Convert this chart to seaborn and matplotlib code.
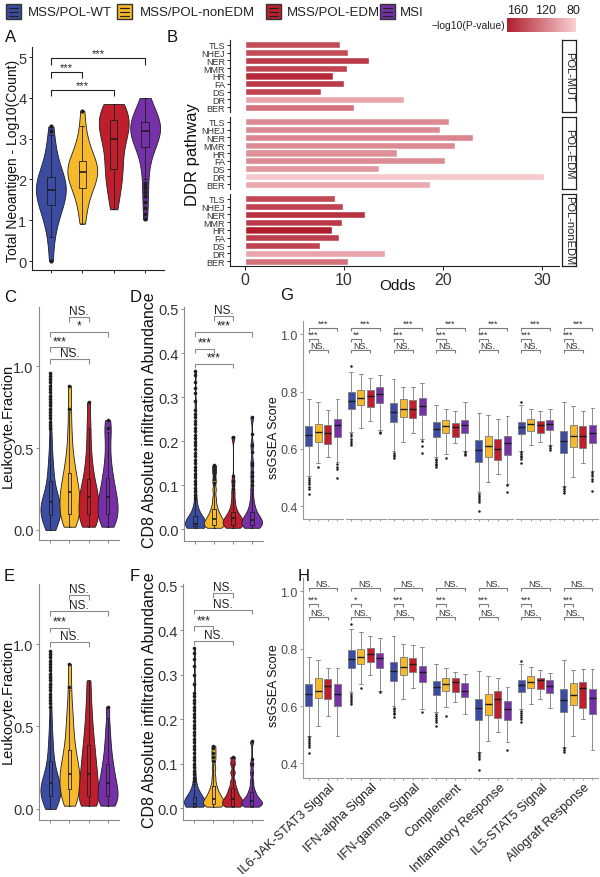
import numpy as np
import pandas as pd
import matplotlib
matplotlib.use("Agg")
import matplotlib.pyplot as plt
import seaborn as sns
from matplotlib.patches import Rectangle
from matplotlib.lines import Line2D
from matplotlib.colors import LinearSegmentedColormap, Normalize
from matplotlib.cm import ScalarMappable

# ---------------- data ----------------
GROUPS = ["MSS/POL-WT", "MSS/POL-nonEDM", "MSS/POL-EDM", "MSI"]
COLORS = ["#3B4CA2", "#F6B92C", "#BF1E2D", "#7630A8"]

# Panel A: Total neoantigen log10(count)
A_VIOLIN = [
    [0.0, 0.5, 0.8, 1.0, 1.15, 1.25, 1.35, 1.45, 1.52, 1.6, 1.66, 1.72, 1.78, 1.84, 1.9, 1.96, 2.03, 2.1, 2.2, 2.32, 2.48, 2.7, 2.95, 3.3],
    [0.92, 1.25, 1.5, 1.68, 1.8, 1.9, 1.98, 2.06, 2.12, 2.18, 2.24, 2.3, 2.36, 2.43, 2.5, 2.6, 2.75, 2.95, 3.2, 3.68],
    [1.27, 1.55, 1.8, 2.0, 2.15, 2.25, 2.4, 2.6, 2.8, 2.95, 3.05, 3.15, 3.25, 3.32, 3.4, 3.48, 3.56, 3.64, 3.72, 3.8, 3.85],
    [1.02, 1.5, 1.9, 2.3, 2.6, 2.8, 2.9, 3.0, 3.08, 3.14, 3.2, 3.25, 3.3, 3.35, 3.4, 3.45, 3.52, 3.62, 3.8, 4.0],
]
A_BOX = [[0.6, 1.37, 1.75, 2.07, 3.1], [0.92, 1.8, 2.18, 2.45, 3.3],
         [1.27, 2.25, 3.0, 3.45, 3.85], [2.0, 2.8, 3.2, 3.42, 4.0]]
A_OUT = [[0.0, 3.2, 3.3], [3.68], [], [1.02, 1.15, 1.3, 1.45, 1.6, 1.7, 1.78, 1.85, 1.92]]
A_SIG = [(0, 3, 4.97, "***"), (0, 1, 4.63, "***"), (0, 2, 4.19, "***")]

# Panel B: DDR pathway odds
PATHWAYS = ["TLS", "NHEJ", "NER", "MMR", "HR", "FA", "DS", "DR", "BER"]
B_FACETS = ["POL-MUT", "POL-EDM", "POL-nonEDM"]
B_ODDS_MUT = [9.6, 10.4, 12.5, 10.3, 8.9, 10.0, 7.7, 16.1, 11.0]
B_ODDS_EDM = [20.6, 19.7, 23.0, 21.2, 15.3, 20.2, 13.5, 30.2, 18.7]
B_ODDS_NONEDM = [9.1, 9.9, 12.1, 9.8, 8.8, 9.5, 7.6, 14.1, 10.4]
B_LOGP_MUT = [150, 150, 160, 155, 170, 160, 155, 100, 130]
B_LOGP_EDM = [115, 115, 118, 115, 112, 115, 108, 80, 98]
B_LOGP_NONEDM = [152, 155, 165, 160, 176, 158, 155, 100, 130]

# Panel C / E: Leukocyte fraction
C_VIOLIN = [
    [0.0, 0.01, 0.03, 0.05, 0.06, 0.08, 0.09, 0.1, 0.11, 0.12, 0.13, 0.14, 0.15, 0.16, 0.17, 0.18, 0.2, 0.22, 0.24, 0.27, 0.3, 0.34, 0.38, 0.43, 0.5, 0.6, 0.78, 0.96],
    [0.02, 0.04, 0.06, 0.08, 0.1, 0.12, 0.14, 0.16, 0.18, 0.2, 0.22, 0.24, 0.26, 0.28, 0.31, 0.34, 0.37, 0.41, 0.46, 0.53, 0.62, 0.74, 0.88],
    [0.02, 0.03, 0.05, 0.07, 0.09, 0.11, 0.13, 0.15, 0.17, 0.19, 0.21, 0.23, 0.25, 0.28, 0.31, 0.35, 0.4, 0.46, 0.55, 0.65, 0.78],
    [0.02, 0.04, 0.06, 0.08, 0.1, 0.12, 0.14, 0.16, 0.18, 0.2, 0.22, 0.25, 0.28, 0.31, 0.35, 0.4, 0.47, 0.55, 0.62, 0.67],
]
C_BOX = [[0.0, 0.09, 0.17, 0.30, 0.61], [0.02, 0.10, 0.23, 0.35, 0.72],
         [0.02, 0.10, 0.20, 0.31, 0.62], [0.02, 0.10, 0.20, 0.32, 0.60]]
C_OUT = [[0.62, 0.64, 0.66, 0.68, 0.70, 0.72, 0.74, 0.76, 0.78, 0.80, 0.82, 0.84, 0.86, 0.88, 0.90, 0.92, 0.94, 0.96],
         [0.74, 0.88], [0.78], [0.62, 0.67]]
C_SIG = [(1, 2, 1.30, "NS."), (0, 3, 1.21, "*"), (0, 1, 1.115, "***"), (0, 2, 1.04, "NS.")]

E_VIOLIN = [
    [0.0, 0.01, 0.03, 0.05, 0.06, 0.07, 0.08, 0.09, 0.1, 0.11, 0.12, 0.13, 0.14, 0.15, 0.16, 0.17, 0.19, 0.21, 0.23, 0.26, 0.29, 0.33, 0.38, 0.43, 0.5, 0.6, 0.78, 0.96],
    [0.02, 0.04, 0.06, 0.09, 0.11, 0.13, 0.15, 0.17, 0.19, 0.21, 0.23, 0.25, 0.27, 0.3, 0.33, 0.36, 0.4, 0.45, 0.5, 0.56, 0.63, 0.74, 0.88],
    [0.02, 0.03, 0.05, 0.07, 0.09, 0.12, 0.15, 0.18, 0.21, 0.24, 0.27, 0.31, 0.35, 0.39, 0.44, 0.5, 0.57, 0.66, 0.78],
    [0.02, 0.03, 0.05, 0.06, 0.08, 0.1, 0.12, 0.14, 0.16, 0.18, 0.21, 0.24, 0.27, 0.31, 0.36, 0.42, 0.5, 0.62],
]
E_BOX = [[0.0, 0.08, 0.16, 0.29, 0.60], [0.02, 0.12, 0.21, 0.36, 0.72],
         [0.02, 0.08, 0.21, 0.39, 0.78], [0.02, 0.08, 0.16, 0.27, 0.55]]
E_OUT = [[0.62, 0.64, 0.66, 0.68, 0.70, 0.72, 0.74, 0.76, 0.78, 0.80, 0.82, 0.84, 0.86, 0.88, 0.90, 0.92, 0.94, 0.96],
         [0.74, 0.88], [], [0.62]]
E_SIG = [(1, 2, 1.30, "NS."), (0, 3, 1.20, "NS."), (0, 1, 1.10, "***"), (0, 2, 1.015, "NS.")]

# Panel D / F: CD8 absolute infiltration abundance
D_VIOLIN = [
    [0.003, 0.004, 0.005, 0.006, 0.007, 0.008, 0.009, 0.01, 0.011, 0.012, 0.014, 0.016, 0.018, 0.02, 0.023, 0.026, 0.03, 0.035, 0.04, 0.05, 0.065, 0.09, 0.13, 0.2, 0.28, 0.36],
    [0.003, 0.005, 0.008, 0.01, 0.012, 0.015, 0.018, 0.021, 0.024, 0.028, 0.033, 0.038, 0.045, 0.055, 0.07, 0.09, 0.11, 0.13, 0.145],
    [0.003, 0.005, 0.008, 0.01, 0.013, 0.016, 0.019, 0.022, 0.025, 0.029, 0.034, 0.04, 0.05, 0.065, 0.085, 0.11, 0.21],
    [0.003, 0.005, 0.007, 0.01, 0.012, 0.015, 0.018, 0.02, 0.024, 0.028, 0.033, 0.04, 0.05, 0.065, 0.09, 0.12, 0.15, 0.19, 0.255],
]
D_BOX = [[0.003, 0.006, 0.012, 0.03, 0.066], [0.003, 0.01, 0.022, 0.045, 0.1],
         [0.003, 0.01, 0.025, 0.04, 0.085], [0.003, 0.01, 0.02, 0.04, 0.09]]
D_OUT = [[0.07, 0.078, 0.086, 0.094, 0.102, 0.11, 0.118, 0.126, 0.134, 0.142, 0.15, 0.158, 0.166, 0.174, 0.182, 0.19, 0.198,
          0.206, 0.214, 0.222, 0.23, 0.238, 0.246, 0.254, 0.262, 0.27, 0.29, 0.31, 0.32, 0.335, 0.35, 0.36],
         [0.105, 0.113, 0.12, 0.128, 0.135, 0.14, 0.145],
         [0.09, 0.1, 0.11, 0.12, 0.21],
         [0.1, 0.11, 0.12, 0.13, 0.145, 0.15, 0.175, 0.19, 0.215, 0.255]]
D_SIG = [(1, 2, 0.484, "NS."), (0, 3, 0.448, "***"), (0, 1, 0.41, "***"), (0, 2, 0.376, "***")]

F_VIOLIN = [
    [0.003, 0.004, 0.005, 0.006, 0.007, 0.008, 0.009, 0.01, 0.011, 0.012, 0.014, 0.016, 0.018, 0.02, 0.023, 0.026, 0.03, 0.035, 0.04, 0.05, 0.065, 0.09, 0.13, 0.2, 0.28, 0.36],
    [0.003, 0.005, 0.008, 0.01, 0.012, 0.015, 0.018, 0.021, 0.024, 0.028, 0.033, 0.038, 0.045, 0.055, 0.07, 0.09, 0.11, 0.125, 0.14],
    [0.003, 0.005, 0.008, 0.011, 0.014, 0.017, 0.02, 0.024, 0.028, 0.034, 0.04, 0.048, 0.06, 0.08, 0.1, 0.115],
    [0.003, 0.005, 0.007, 0.009, 0.011, 0.013, 0.015, 0.018, 0.021, 0.025, 0.03, 0.036, 0.045, 0.06, 0.08, 0.1, 0.15],
]
F_BOX = [[0.003, 0.005, 0.01, 0.025, 0.055], [0.003, 0.01, 0.02, 0.05, 0.1],
         [0.003, 0.005, 0.02, 0.045, 0.1], [0.003, 0.005, 0.015, 0.035, 0.08]]
F_OUT = [[0.06, 0.068, 0.076, 0.084, 0.092, 0.1, 0.108, 0.116, 0.124, 0.132, 0.14, 0.148, 0.156, 0.164, 0.172, 0.18, 0.188,
          0.196, 0.204, 0.212, 0.22, 0.228, 0.236, 0.244, 0.252, 0.26, 0.28, 0.3, 0.32, 0.335, 0.35, 0.36],
         [0.105, 0.115, 0.125, 0.135, 0.14],
         [0.115],
         [0.1, 0.11, 0.15]]
F_SIG = [(1, 2, 0.484, "NS."), (0, 3, 0.447, "NS."), (0, 1, 0.41, "***"), (0, 2, 0.377, "NS.")]

# Panels G / H: ssGSEA scores  [whisker-low, Q1, median, Q3, whisker-high]
HALLMARKS = ["IL6-JAK-STAT3 Signal", "IFN-alpha Signal", "IFN-gamma Signal", "Complement",
             "Inflamatory Response", "IL5-STAT5 Signal", "Allograft Response"]
G_STATS = [
    [[0.506, 0.609, 0.649, 0.681, 0.775], [0.552, 0.625, 0.658, 0.687, 0.763], [0.571, 0.617, 0.656, 0.684, 0.737], [0.553, 0.642, 0.684, 0.705, 0.774]],
    [[0.658, 0.740, 0.769, 0.798, 0.870], [0.673, 0.752, 0.778, 0.806, 0.861], [0.698, 0.748, 0.784, 0.806, 0.849], [0.667, 0.761, 0.792, 0.818, 0.857]],
    [[0.591, 0.693, 0.728, 0.759, 0.846], [0.623, 0.712, 0.739, 0.774, 0.818], [0.655, 0.709, 0.739, 0.770, 0.815], [0.635, 0.719, 0.751, 0.779, 0.829]],
    [[0.571, 0.643, 0.669, 0.693, 0.753], [0.581, 0.654, 0.681, 0.700, 0.739], [0.620, 0.643, 0.677, 0.689, 0.733], [0.593, 0.657, 0.683, 0.700, 0.765]],
    [[0.448, 0.555, 0.596, 0.631, 0.727], [0.483, 0.573, 0.611, 0.646, 0.718], [0.514, 0.561, 0.599, 0.634, 0.704], [0.477, 0.580, 0.619, 0.646, 0.716]],
    [[0.591, 0.652, 0.676, 0.695, 0.755], [0.613, 0.663, 0.686, 0.704, 0.739], [0.625, 0.655, 0.683, 0.696, 0.733], [0.613, 0.666, 0.686, 0.700, 0.739]],
    [[0.472, 0.586, 0.627, 0.664, 0.763], [0.501, 0.606, 0.644, 0.684, 0.751], [0.551, 0.602, 0.644, 0.679, 0.733], [0.524, 0.621, 0.656, 0.684, 0.742]],
]
G_OUT = [
    [[0.50, 0.492, 0.484, 0.476, 0.468, 0.46, 0.442], [0.535], [], [0.546, 0.538, 0.53, 0.498]],
    [[0.889, 0.652, 0.644, 0.636, 0.628, 0.62, 0.612], [], [], [0.66, 0.654]],
    [[0.586, 0.58, 0.574, 0.568], [], [], [0.629, 0.609, 0.586]],
    [[0.566, 0.56, 0.554, 0.548, 0.542, 0.536], [0.569], [], [0.589, 0.583, 0.577]],
    [[0.444, 0.437, 0.43, 0.423, 0.416, 0.384], [], [], [0.473, 0.45]],
    [[0.765, 0.588, 0.582, 0.576, 0.57, 0.564, 0.551], [], [], [0.61, 0.604, 0.597]],
    [[0.468, 0.46, 0.452, 0.445], [], [], [0.52, 0.512, 0.504, 0.496, 0.489, 0.454]],
]
G_SIG14 = ["***", "***", "***", "***", "***", "***", "***"]
G_SIG12 = ["***", "**", "***", "***", "***", "***", "***"]
G_SIG13 = ["NS.", "NS.", "NS.", "NS.", "NS.", "NS.", "NS."]
G_SIG_Y = [1.023, 0.984, 0.946]

H_STATS = [
    [[0.497, 0.601, 0.642, 0.677, 0.770], [0.532, 0.627, 0.654, 0.697, 0.762], [0.567, 0.625, 0.671, 0.695, 0.734], [0.497, 0.601, 0.642, 0.677, 0.734]],
    [[0.648, 0.733, 0.765, 0.794, 0.869], [0.677, 0.747, 0.772, 0.799, 0.858], [0.708, 0.755, 0.782, 0.802, 0.846], [0.654, 0.732, 0.767, 0.784, 0.837]],
    [[0.601, 0.686, 0.721, 0.755, 0.843], [0.625, 0.710, 0.735, 0.770, 0.817], [0.662, 0.720, 0.747, 0.767, 0.814], [0.590, 0.685, 0.718, 0.739, 0.805]],
    [[0.578, 0.638, 0.665, 0.686, 0.747], [0.596, 0.654, 0.677, 0.697, 0.734], [0.615, 0.650, 0.683, 0.697, 0.718], [0.572, 0.630, 0.654, 0.679, 0.711]],
    [[0.439, 0.552, 0.592, 0.625, 0.724], [0.479, 0.570, 0.607, 0.643, 0.704], [0.509, 0.559, 0.625, 0.654, 0.697], [0.474, 0.553, 0.590, 0.616, 0.665]],
    [[0.590, 0.650, 0.674, 0.692, 0.747], [0.607, 0.662, 0.683, 0.704, 0.735], [0.625, 0.660, 0.692, 0.697, 0.727], [0.592, 0.644, 0.669, 0.692, 0.716]],
    [[0.456, 0.581, 0.621, 0.660, 0.762], [0.497, 0.604, 0.639, 0.681, 0.727], [0.555, 0.592, 0.662, 0.683, 0.729], [0.448, 0.573, 0.627, 0.660, 0.729]],
]
H_OUT = [
    [[0.492, 0.485, 0.478, 0.471, 0.464, 0.457, 0.437], [], [], []],
    [[0.887, 0.643, 0.636, 0.629, 0.622, 0.615, 0.607], [0.663], [], [0.648]],
    [[0.595, 0.589, 0.583, 0.577, 0.571, 0.563], [], [], [0.578]],
    [[0.572, 0.565, 0.558, 0.551, 0.544, 0.532], [0.566], [], []],
    [[0.435, 0.428, 0.421, 0.414, 0.378], [], [], [0.445]],
    [[0.759, 0.584, 0.577, 0.57, 0.563, 0.556, 0.546], [], [], []],
    [[0.453, 0.446, 0.439], [], [], []],
]
H_SIG14 = ["NS.", "NS.", "NS.", "NS.", "NS.", "NS.", "NS."]
H_SIG12 = ["***", "*", "***", "***", "***", "***", "***"]
H_SIG13 = ["NS.", "NS.", "NS.", "NS.", "NS.", "NS.", "NS."]
H_SIG_Y = [1.012, 0.956, 0.911]

# ---------------- figure ----------------
W, H = 600, 878
sns.set_theme(style="ticks")
plt.rcParams["font.family"] = ["Liberation Sans", "DejaVu Sans"]
fig = plt.figure(figsize=(6, 8.78), dpi=100)
PAL = dict(zip(GROUPS, COLORS))
GREY = "#8a8a8a"
DARK = "#1f1f1f"


def axpx(l, t, r, b):
    return fig.add_axes([l / W, 1 - b / H, (r - l) / W, (b - t) / H])


def long_df(lists):
    rows = []
    for g, vals in zip(GROUPS, lists):
        for v in vals:
            rows.append((g, v))
    return pd.DataFrame(rows, columns=["group", "value"])


def style_axis(ax, col, fs, left=True):
    sns.despine(ax=ax)
    for s in ["left", "bottom"]:
        ax.spines[s].set_color(col)
        ax.spines[s].set_linewidth(0.8)
    ax.tick_params(axis="both", colors=col, labelcolor="#333333", labelsize=fs,
                   length=2.5, width=0.7, pad=1.5)
    if not left:
        ax.spines["left"].set_visible(False)
        ax.tick_params(axis="y", left=False, labelleft=False)


def bracket(ax, x1, x2, y, drop, label, fs, col, tcol):
    ax.plot([x1, x1, x2, x2], [y - drop, y, y, y - drop], color=col, lw=0.8,
            clip_on=False, solid_capstyle="butt")
    ax.text((x1 + x2) / 2, y, label, ha="center", va="bottom", fontsize=fs,
            color=tcol, clip_on=False)


def violin_panel(box_px, vals, box, out, sig, ylim, yticks, ytl, bw, width, norm_mode,
                 box_w, col, fs_tick, drop, fs_sig, psize):
    ax = axpx(*box_px)
    sns.violinplot(data=long_df(vals), x="group", y="value", hue="group",
                   order=GROUPS, hue_order=GROUPS, palette=PAL, saturation=1,
                   cut=0, inner=None, density_norm=norm_mode, bw_adjust=bw,
                   width=width, linewidth=0.6, linecolor=DARK, legend=False, ax=ax)
    sns.boxplot(data=long_df(box), x="group", y="value", hue="group",
                order=GROUPS, hue_order=GROUPS, palette=PAL, saturation=1,
                whis=(0, 100), width=box_w, linewidth=0.6, linecolor=DARK,
                fliersize=0, legend=False, ax=ax, medianprops={"linewidth": 1.2})
    do = long_df(out)
    if len(do):
        sns.stripplot(data=do, x="group", y="value", order=GROUPS, jitter=False,
                      color=DARK, size=psize, ax=ax, zorder=5)
    for x1, x2, y, lab in sig:
        bracket(ax, x1, x2, y, drop, lab, fs_sig, col, "#222222")
    ax.set_xlim(-0.6, 3.6)
    ax.set_ylim(*ylim)
    ax.set_xticks(range(4))
    ax.set_xticklabels([])
    ax.set_yticks(yticks)
    ax.set_yticklabels(ytl)
    ax.set_xlabel("")
    ax.set_ylabel("")
    style_axis(ax, col, fs_tick)
    return ax


# ---- legend ----
leg_sq = [6, 117, 266, 380]
leg_tx = [28, 140, 287, 400]
for x0, xt, c, g in zip(leg_sq, leg_tx, COLORS, GROUPS):
    fig.add_artist(Rectangle((x0 / W, 1 - 20 / H), 15 / W, 15 / H, transform=fig.transFigure,
                             facecolor=c, edgecolor="#333333", lw=1.0))
    for yy in [8.5, 12.5, 16.5]:
        fig.add_artist(Line2D([(x0 + 3) / W, (x0 + 12) / W], [1 - yy / H, 1 - yy / H],
                              transform=fig.transFigure, color="#222222", lw=0.9))
    fig.text(xt / W, 1 - 12.5 / H, g, fontsize=9.5, va="center", ha="left", color="#222222")

# ---- panel labels ----
for lab, x, y in [("A", 5, 37), ("B", 167, 37), ("C", 4, 298), ("D", 130, 298),
                  ("E", 4, 577), ("F", 130, 577), ("G", 280, 296), ("H", 298, 577)]:
    fig.text(x / W, 1 - y / H, lab, fontsize=12, va="center", ha="left", color="#111111")

# ---- Panel A ----
violin_panel((32, 48, 164, 271), A_VIOLIN, A_BOX, A_OUT, A_SIG, (-0.22, 5.25),
             [0, 1, 2, 3, 4, 5], ["0", "1", "2", "3", "4", "5"], 0.9, 0.95, "area", 0.24,
             "#222222", 10.5, 0.15, 8, 3.0)
fig.text(13 / W, 1 - 161 / H, "Total Neoantigen - Log10(Count)", rotation=90,
         fontsize=10, ha="center", va="center", color="#111111")

# ---- Panel B ----
cmap = LinearSegmentedColormap.from_list("pv", ["#F9D0D3", "#B01E2E"])
norm = Normalize(76, 176)
tops = [41, 118, 195]
bots = [113, 190, 267]
for i, (fac, odds, lp) in enumerate(zip(B_FACETS, [B_ODDS_MUT, B_ODDS_EDM, B_ODDS_NONEDM],
                                        [B_LOGP_MUT, B_LOGP_EDM, B_LOGP_NONEDM])):
    ax = axpx(230, tops[i], 559, bots[i])
    dfb = pd.DataFrame({"pathway": PATHWAYS, "odds": odds, "logp": lp})
    pal = {p: cmap(norm(v)) for p, v in zip(PATHWAYS, lp)}
    sns.barplot(data=dfb, x="odds", y="pathway", hue="pathway", order=PATHWAYS,
                hue_order=PATHWAYS, palette=pal, saturation=1, width=0.9,
                legend=False, ax=ax, orient="h")
    ax.set_xlim(-1.51, 31.7)
    ax.set_ylim(8.6, -0.6)
    ax.set_xlabel("")
    ax.set_ylabel("")
    style_axis(ax, "#222222", 6.5)
    ax.tick_params(axis="y", labelsize=6.5, length=2.5, pad=1)
    if i < 2:
        ax.spines["bottom"].set_visible(False)
        ax.tick_params(axis="x", bottom=False, labelbottom=False)
    else:
        ax.set_xticks([0, 10, 20, 30])
        ax.tick_params(axis="x", labelsize=11.5, length=3, pad=1)
    sax = axpx(562, tops[i], 576, bots[i])
    sax.set_xticks([])
    sax.set_yticks([])
    for s in sax.spines.values():
        s.set_color("#222222")
        s.set_linewidth(0.9)
    sax.text(0.5, 0.5, fac, rotation=270, ha="center", va="center", fontsize=8,
             transform=sax.transAxes, color="#222222")
fig.text(193 / W, 1 - 155 / H, "DDR pathway", rotation=90, fontsize=12,
         ha="center", va="center", color="#111111")
fig.text(397 / W, 1 - 286 / H, "Odds", fontsize=11, ha="center", va="center", color="#111111")

cax = axpx(507, 19, 576, 33)
cb = fig.colorbar(ScalarMappable(norm=norm, cmap=cmap), cax=cax, orientation="horizontal")
cb.set_ticks([80, 120, 160])
cb.outline.set_visible(False)
cax.invert_xaxis()
cax.xaxis.set_ticks_position("top")
cax.tick_params(axis="x", length=0, labelsize=9, pad=1.5, labelcolor="#222222")
fig.text(505 / W, 1 - 26 / H, "\u2212log10(P-value)", fontsize=7.5, ha="right",
         va="center", color="#222222")

# ---- Panels C, D, E, F ----
violin_panel((39, 308, 119, 541), C_VIOLIN, C_BOX, C_OUT, C_SIG, (-0.061, 1.36),
             [0, 0.5, 1.0], ["0.0", "0.5", "1.0"], 0.55, 1.05, "width", 0.2, GREY, 10.5, 0.03, 8.5, 2.6)
violin_panel((184, 308, 263, 542), D_VIOLIN, D_BOX, D_OUT, D_SIG, (-0.027, 0.5045),
             [0, 0.1, 0.2, 0.3, 0.4, 0.5], ["0.0", "0.1", "0.2", "0.3", "0.4", "0.5"],
             0.3, 1.1, "area", 0.2, GREY, 10.5, 0.011, 8.5, 2.6)
violin_panel((39, 585, 119, 821), E_VIOLIN, E_BOX, E_OUT, E_SIG, (-0.067, 1.364),
             [0, 0.5, 1.0], ["0.0", "0.5", "1.0"], 0.55, 1.05, "width", 0.2, GREY, 10.5, 0.03, 8.5, 2.6)
violin_panel((183, 585, 263, 821), F_VIOLIN, F_BOX, F_OUT, F_SIG, (-0.027, 0.5045),
             [0, 0.1, 0.2, 0.3, 0.4, 0.5], ["0.0", "0.1", "0.2", "0.3", "0.4", "0.5"],
             0.3, 1.1, "area", 0.2, GREY, 10.5, 0.011, 8.5, 2.6)
for y in [426, 702]:
    fig.text(8 / W, 1 - y / H, "Leukocyte.Fraction", rotation=90, fontsize=10.5,
             ha="center", va="center", color="#111111")
for y in [420, 700]:
    fig.text(150 / W, 1 - y / H, "CD8 Absolute infiltration Abundance", rotation=90,
             fontsize=11.5, ha="center", va="center", color="#111111")


# ---- Panels G, H ----
def box_facets(top, bot, stats, outs, s14, s12, s13, sig_y, ylim, xlabels):
    for k in range(7):
        l = 303 + k * 42.5
        ax = axpx(l, top, l + 40, bot)
        sns.boxplot(data=long_df(stats[k]), x="group", y="value", hue="group",
                    order=GROUPS, hue_order=GROUPS, palette=PAL, saturation=1,
                    whis=(0, 100), width=0.75, linewidth=0.6, linecolor="#7a7a7a",
                    fliersize=0, legend=False, ax=ax,
                    medianprops={"color": "#1a1a1a", "linewidth": 1.0})
        do = long_df(outs[k])
        if len(do):
            sns.stripplot(data=do, x="group", y="value", order=GROUPS, jitter=False,
                          color="#1a1a1a", size=1.8, ax=ax, zorder=5)
        bracket(ax, 0, 3, sig_y[0], 0.01, s14[k], 6.5, "#7a7a7a", "#333333")
        bracket(ax, 0, 1, sig_y[1], 0.01, s12[k], 6.5, "#7a7a7a", "#333333")
        bracket(ax, 0, 2, sig_y[2], 0.01, s13[k], 6.5, "#7a7a7a", "#333333")
        ax.set_xlim(-0.6, 3.6)
        ax.set_ylim(*ylim)
        ax.set_xticks(range(4))
        ax.set_xticklabels([])
        ax.set_yticks([0.4, 0.6, 0.8, 1.0])
        ax.set_yticklabels(["0.4", "0.6", "0.8", "1.0"])
        ax.set_xlabel("")
        ax.set_ylabel("")
        style_axis(ax, "#9a9a9a", 9, left=(k == 0))
        ax.tick_params(axis="x", length=1.5)
        ax.tick_params(axis="y", labelcolor="#4d4d4d")
        if xlabels:
            cx = l + 20 + 6
            fig.text(cx / W, 1 - 782 / H, HALLMARKS[k], rotation=43, fontsize=9.2,
                     ha="right", va="top", rotation_mode="anchor", color="#222222")


box_facets(322, 520, G_STATS, G_OUT, G_SIG14, G_SIG12, G_SIG13, G_SIG_Y, (0.355, 1.047), False)
box_facets(579, 779, H_STATS, H_OUT, H_SIG14, H_SIG12, H_SIG13, H_SIG_Y, (0.349, 1.047), True)
fig.text(274 / W, 1 - 438 / H, "ssGSEA Score", rotation=90, fontsize=9,
         ha="center", va="center", color="#111111")
fig.text(274 / W, 1 - 686 / H, "ssGSEA Score", rotation=90, fontsize=9,
         ha="center", va="center", color="#111111")

fig.savefig("out.png", dpi=100, facecolor="white")
